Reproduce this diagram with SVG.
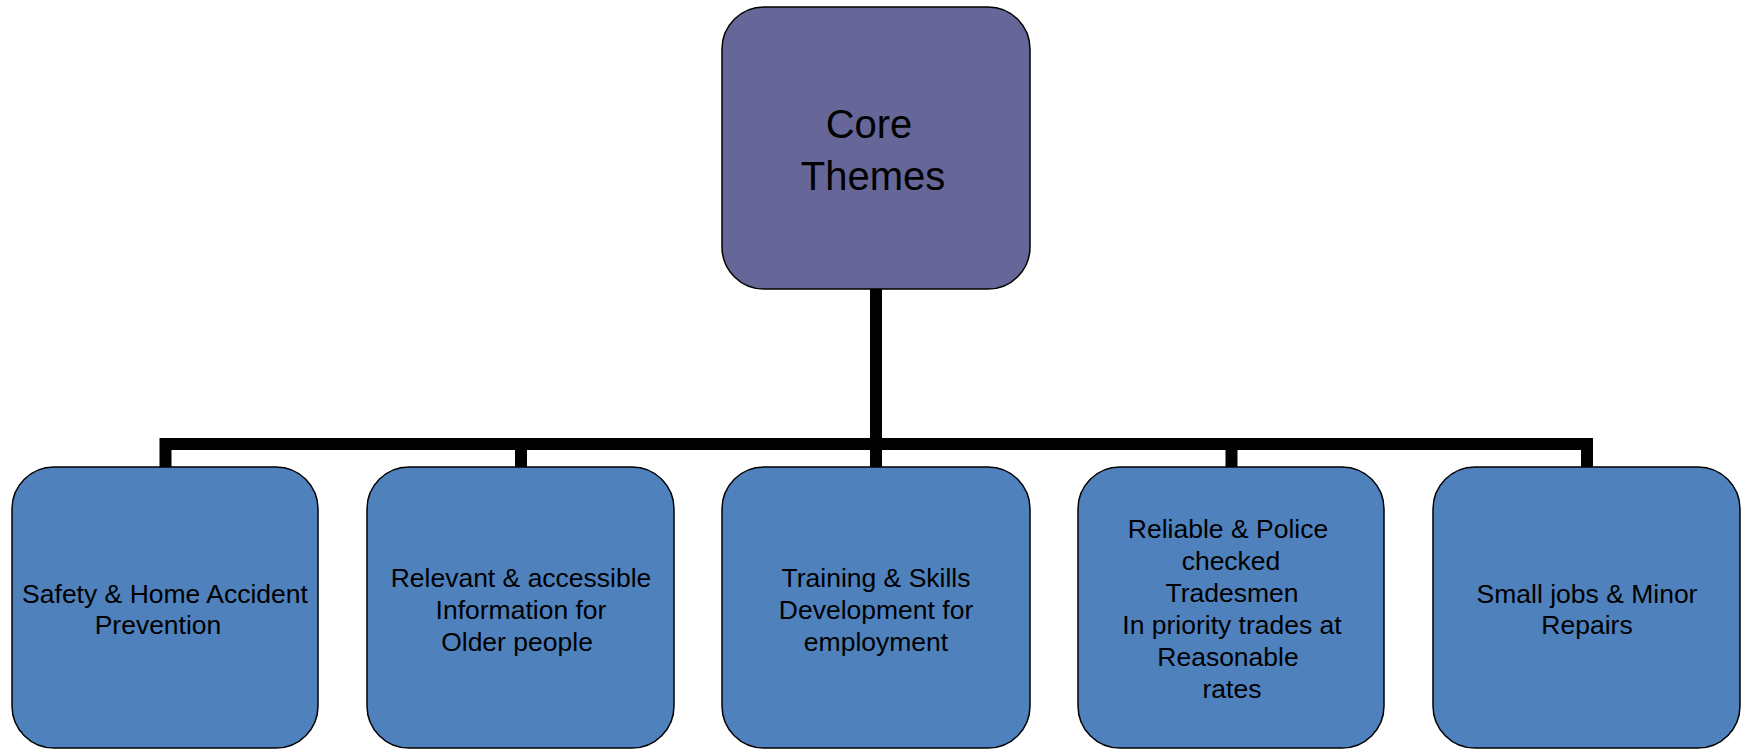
<svg xmlns="http://www.w3.org/2000/svg" width="1743" height="749" viewBox="0 0 1743 749">
<style>
.box{fill:#4F81BD;stroke:#000;stroke-width:1.5}
.top{fill:#666699;stroke:#000;stroke-width:1.5}
.t{font-family:"Liberation Sans",Arial,sans-serif;font-size:26.5px;fill:#000;text-anchor:middle}
.tc{font-family:"Liberation Sans",Arial,sans-serif;font-size:40px;fill:#000;text-anchor:middle}
.conn{fill:none;stroke:#000;stroke-width:12;stroke-linejoin:miter;stroke-linecap:butt}
</style>
<rect width="1743" height="749" fill="#fff"/>
<g id="connectors">
<path class="conn" d="M876 289 V467"/>
<path class="conn" d="M165.5 467 V444 H1587 V467"/>
<path class="conn" d="M521 444 V467"/>
<path class="conn" d="M1231.5 444 V467"/>
</g>
<g id="core">
<rect class="top" x="722" y="7" width="308" height="282" rx="42" ry="42"/>
<text class="tc" x="869" y="138">Core</text>
<text class="tc" x="873" y="190">Themes</text>
</g>
<g id="n1">
<rect class="box" x="12" y="467" width="306" height="281" rx="42" ry="42"/>
<text class="t" x="165" y="603">Safety &amp; Home Accident</text>
<text class="t" x="158" y="634">Prevention</text>
</g>
<g id="n2">
<rect class="box" x="367" y="467" width="307" height="281" rx="42" ry="42"/>
<text class="t" x="521" y="587">Relevant &amp; accessible</text>
<text class="t" x="521" y="619">Information for</text>
<text class="t" x="517" y="651">Older people</text>
</g>
<g id="n3">
<rect class="box" x="722" y="467" width="308" height="281" rx="42" ry="42"/>
<text class="t" x="876" y="587">Training &amp; Skills</text>
<text class="t" x="876" y="619">Development for</text>
<text class="t" x="876" y="651">employment</text>
</g>
<g id="n4">
<rect class="box" x="1078" y="467" width="306" height="281" rx="42" ry="42"/>
<text class="t" x="1228" y="538">Reliable &amp; Police</text>
<text class="t" x="1231" y="570">checked</text>
<text class="t" x="1232" y="602">Tradesmen</text>
<text class="t" x="1232" y="634">In priority trades at</text>
<text class="t" x="1228" y="666">Reasonable</text>
<text class="t" x="1232" y="698">rates</text>
</g>
<g id="n5">
<rect class="box" x="1433" y="467" width="307" height="281" rx="42" ry="42"/>
<text class="t" x="1587" y="603">Small jobs &amp; Minor</text>
<text class="t" x="1587" y="634">Repairs</text>
</g>
</svg>
